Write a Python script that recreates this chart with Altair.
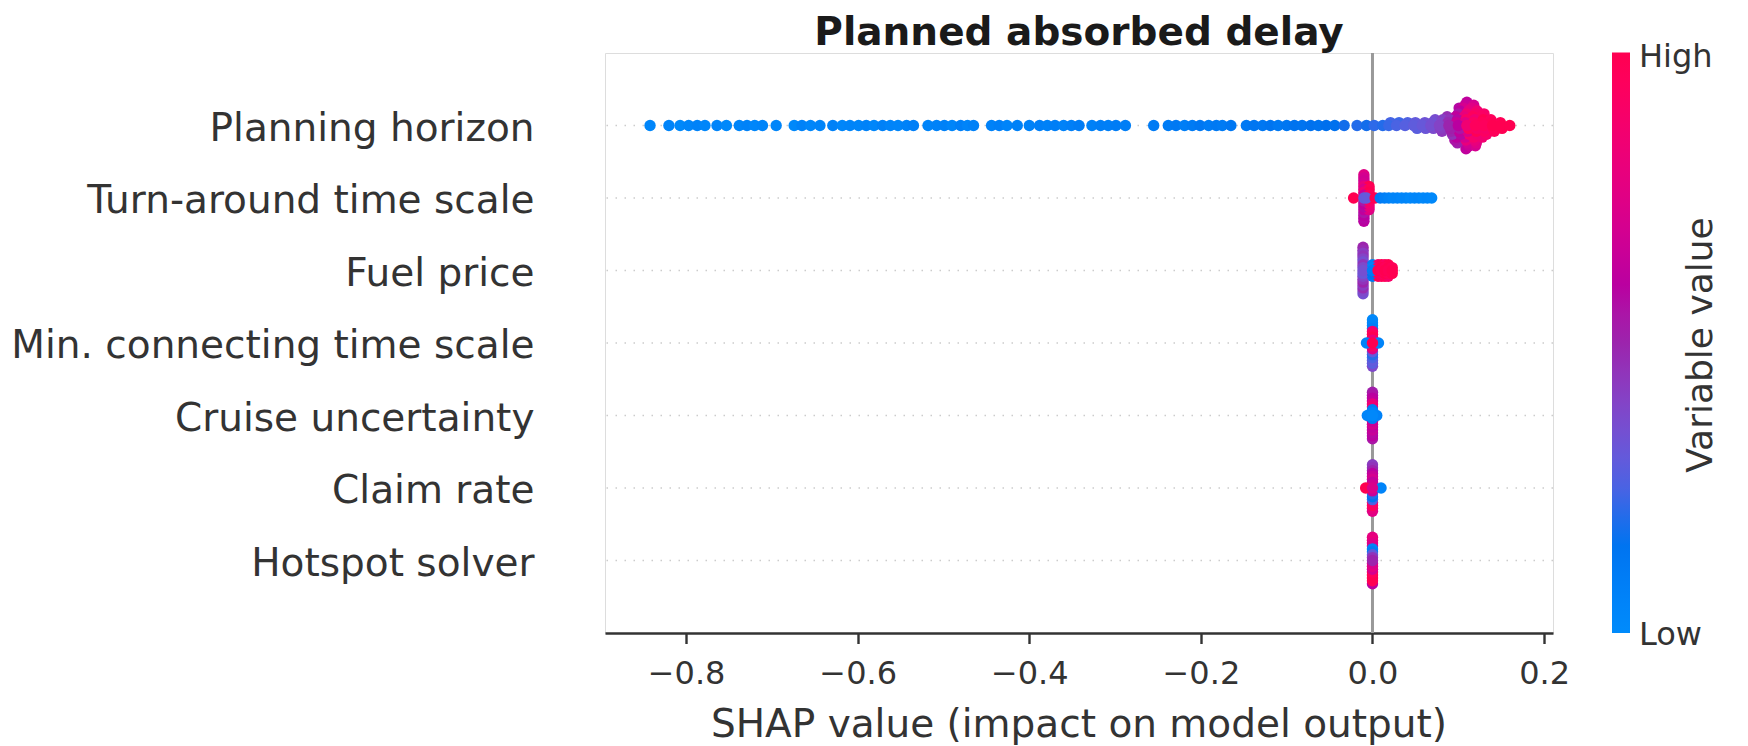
import json
import numpy as np
import pandas as pd
import altair as alt

# rows from bottom (0) to top (6)
features = ["Hotspot solver", "Claim rate", "Cruise uncertainty",
            "Min. connecting time scale", "Fuel price",
            "Turn-around time scale", "Planning horizon"]

planning_shap = [
    -0.842, -0.820, -0.807, -0.797, -0.787, -0.778, -0.764, -0.753, -0.738, -0.729,
    -0.720, -0.711, -0.695, -0.674, -0.665, -0.655, -0.644, -0.629, -0.618,
    -0.609, -0.599, -0.590, -0.581, -0.571, -0.562, -0.553, -0.543, -0.535, -0.518,
    -0.508, -0.499, -0.490, -0.480, -0.472, -0.465, -0.444, -0.435, -0.426, -0.414,
    -0.400, -0.388, -0.379, -0.370, -0.360, -0.351, -0.342, -0.327, -0.317,
    -0.308, -0.299, -0.288, -0.255, -0.238, -0.229, -0.219, -0.210, -0.201, -0.191,
    -0.182, -0.175, -0.165, -0.147, -0.138, -0.128, -0.119, -0.110, -0.100, -0.091,
    -0.082, -0.072, -0.063, -0.054, -0.044, -0.033, -0.018, -0.007, 0.002,
    0.012,
    0.019, 0.021,
    0.028, 0.031,
    0.038, 0.041,
    0.048, 0.050, 0.052,
    0.058, 0.061, 0.062,
    0.068, 0.070, 0.071, 0.073,
    0.078, 0.080, 0.079, 0.082, 0.081,
    0.089, 0.088, 0.091, 0.090, 0.092, 0.087, 0.093,
    0.100, 0.098, 0.102, 0.099, 0.101, 0.097, 0.103, 0.100, 0.098, 0.102, 0.096, 0.101, 0.099,
    0.110, 0.108, 0.112, 0.109, 0.111, 0.107, 0.113, 0.110, 0.108, 0.112, 0.109, 0.106, 0.111,
    0.108, 0.113, 0.110, 0.109,
    0.120, 0.118, 0.122, 0.119, 0.121, 0.117, 0.123, 0.120, 0.118, 0.122, 0.119, 0.116, 0.121,
    0.118, 0.120,
    0.130, 0.128, 0.132, 0.129, 0.131, 0.127, 0.133, 0.130, 0.128,
    0.140, 0.139, 0.141, 0.138, 0.142,
    0.150, 0.149, 0.151,
    0.160,
]
planning_value = [
    0.03, 0.05, 0.02, 0.04, 0.06, 0.03, 0.05, 0.02, 0.04, 0.06,
    0.03, 0.05, 0.04, 0.02, 0.06, 0.03, 0.05, 0.07, 0.03,
    0.05, 0.04, 0.06, 0.03, 0.07, 0.05, 0.04, 0.06, 0.08, 0.05,
    0.06, 0.07, 0.04, 0.08, 0.05, 0.07, 0.06, 0.08, 0.05, 0.07,
    0.06, 0.08, 0.07, 0.09, 0.06, 0.08, 0.10, 0.07, 0.09,
    0.08, 0.10, 0.09, 0.11, 0.10, 0.12, 0.09, 0.11, 0.13, 0.10,
    0.12, 0.11, 0.13, 0.12, 0.14, 0.13, 0.15, 0.12, 0.14, 0.16,
    0.15, 0.17, 0.16, 0.18, 0.17, 0.19, 0.20, 0.19, 0.21,
    0.20,
    0.22, 0.24,
    0.25, 0.23,
    0.27, 0.26,
    0.29, 0.30, 0.28,
    0.31, 0.33, 0.32,
    0.35, 0.34, 0.37, 0.36,
    0.40, 0.38, 0.42, 0.41, 0.44,
    0.50, 0.48, 0.52, 0.45, 0.50, 0.47, 0.46,
    0.60, 0.65, 0.55, 0.58, 0.62, 0.62, 0.58, 0.55, 0.60, 0.60, 0.55, 0.58, 0.52,
    0.85, 0.75, 0.95, 0.90, 0.72, 0.80, 0.88, 0.85, 0.70, 0.78, 0.80, 0.70, 0.68,
    0.65, 0.65, 0.62, 0.62,
    0.95, 0.92, 0.90, 0.85, 0.98, 0.95, 0.85, 0.90, 0.88, 0.85, 0.80, 0.75, 0.75,
    0.70, 0.70,
    0.95, 0.97, 0.90, 1.00, 0.93, 0.92, 0.88, 0.90, 0.85,
    1.00, 0.98, 0.97, 0.95, 0.96,
    1.00, 0.98, 0.99,
    1.00,
]

turn_shap = [
    -0.022,
    -0.010, -0.010, -0.010, -0.010, -0.010, -0.010, -0.010, -0.010, -0.010,
    -0.010, -0.010, -0.010, -0.010, -0.010, -0.010, -0.010, -0.010,
    -0.004, -0.004, -0.004, -0.004, -0.004, -0.004, -0.004, -0.004, -0.004,
    -0.007, 0.003,
    0.009, 0.014, 0.019, 0.024, 0.029, 0.034, 0.039, 0.044, 0.049, 0.054, 0.059, 0.064, 0.069,
]
turn_value = [
    1.00,
    0.30, 0.65, 0.55, 0.85, 0.60, 0.72, 0.58, 0.80, 0.62,
    0.70, 0.55, 0.68, 0.60, 0.70, 0.58, 0.75, 0.60,
    1.00, 0.95, 0.90, 1.00, 0.85, 0.97, 0.80, 1.00, 0.75,
    0.30, 1.00,
    0.12, 0.08, 0.06, 0.04, 0.05, 0.03, 0.04, 0.02, 0.03, 0.04, 0.02, 0.03, 0.02,
]

fuel_shap = [
    -0.011, -0.011, -0.011, -0.011, -0.011, -0.011, -0.011, -0.011, -0.011,
    -0.011, -0.011, -0.011, -0.011, -0.011, -0.011, -0.011, -0.011,
    0.000, 0.000, 0.000, 0.000, 0.000,
    0.0065, 0.0065, 0.0065, 0.0065, 0.0065,
    0.0105, 0.0105, 0.0105, 0.0105, 0.0105,
    0.0145, 0.0145, 0.0145, 0.0145, 0.0145,
    0.0185, 0.0185, 0.0185, 0.0185, 0.0185,
    0.023, 0.023, 0.023,
]
fuel_value = [
    0.35, 0.38, 0.32, 0.45, 0.40, 0.35, 0.45, 0.40, 0.50,
    0.45, 0.42, 0.42, 0.48, 0.48, 0.38, 0.50, 0.35,
    0.10, 0.05, 0.15, 0.08, 0.12,
    1.00, 0.95, 0.98, 0.90, 1.00,
    0.97, 1.00, 0.92, 1.00, 0.95,
    1.00, 0.96, 1.00, 0.93, 0.98,
    0.98, 1.00, 0.95, 1.00, 0.90,
    1.00, 0.97, 1.00,
]

mct_shap = [
    -0.007, 0.007,
    0.000, 0.000, 0.000, 0.000, 0.000, 0.000, 0.000, 0.000, 0.000,
    0.000, 0.000, 0.000, 0.000, 0.000, 0.000, 0.000, 0.000,
]
mct_value = [
    0.05, 0.05,
    1.00, 0.80, 0.90, 1.00, 0.75, 0.95, 0.30, 0.85, 0.20,
    0.08, 0.25, 0.05, 0.30, 0.03, 0.28, 0.02, 0.38,
]

cruise_shap = [
    -0.006, 0.005,
    0.000, 0.000, 0.000, 0.000, 0.000, 0.000, 0.000, 0.000, 0.000,
    0.000, 0.000, 0.000, 0.000, 0.000, 0.000, 0.000, 0.000,
]
cruise_value = [
    0.04, 0.06,
    0.02, 0.05, 0.10, 0.10, 0.65, 0.85, 0.70, 0.80, 0.62,
    0.62, 0.65, 0.60, 0.58, 0.55, 0.60, 0.52, 0.55,
]

claim_shap = [
    -0.008, 0.010,
    0.000, 0.000, 0.000, 0.000, 0.000, 0.000, 0.000, 0.000, 0.000,
    0.000, 0.000, 0.000, 0.000, 0.000, 0.000, 0.000, 0.000,
]
claim_value = [
    1.00, 0.05,
    0.72, 0.68, 0.65, 0.62, 0.20, 0.70, 0.15, 0.65, 0.25,
    0.60, 0.90, 0.50, 0.95, 0.45, 0.80, 0.42, 0.75,
]

hotspot_shap = [
    0.000, 0.000, 0.000, 0.000, 0.000, 0.000, 0.000, 0.000, 0.000,
    0.000, 0.000, 0.000, 0.000, 0.000, 0.000, 0.000, 0.000,
]
hotspot_value = [
    0.50, 0.45, 0.72, 0.30, 0.78, 0.10, 0.70, 0.05, 0.95,
    0.72, 1.00, 0.75, 1.00, 0.80, 0.98, 0.78, 0.60,
]

x_ticks = [-0.8, -0.6, -0.4, -0.2, 0.0, 0.2]

series = [
    (hotspot_shap, hotspot_value),
    (claim_shap, claim_value),
    (cruise_shap, cruise_value),
    (mct_shap, mct_value),
    (fuel_shap, fuel_value),
    (turn_shap, turn_value),
    (planning_shap, planning_value),
]

# ---- beeswarm layout (as in shap's summary plot) ----
records = []
for r, (xs, vs) in enumerate(series):
    n = min(len(xs), len(vs))
    xs = np.asarray(xs[:n], float)
    vs = np.asarray(vs[:n], float)
    lo, hi = xs.min(), xs.max()
    quant = np.round(100 * (xs - lo) / (hi - lo + 1e-8))
    inds = np.argsort(quant, kind="stable")
    layer, last = 0, None
    ys = np.zeros(n)
    for i in inds:
        if quant[i] != last:
            layer = 0
        ys[i] = np.ceil(layer / 2) * ((layer % 2) * 2 - 1)
        layer += 1
        last = quant[i]
    ys *= 0.9 * (0.4 / np.max(ys + 1))
    for i in range(n):
        records.append({"feature": features[r], "row": r, "shap": xs[i],
                        "value": vs[i], "y": r + ys[i], "depth": abs(ys[i]), "idx": i})
df = pd.DataFrame(records)
df = df.sort_values(["row", "depth", "idx"], ascending=[True, False, True]).reset_index(drop=True)
df["draw"] = np.arange(len(df))

# ---- shap red_blue colormap (LCH interpolation) ----
def lab_to_rgb(L, a, b):
    fy = (L + 16.0) / 116.0
    fx = a / 500.0 + fy
    fz = max(fy - b / 200.0, 0.0)
    f = np.array([fx, fy, fz])
    xyz = np.where(f > 0.2068966, f ** 3, (f - 16.0 / 116.0) / 7.787) * np.array([0.95047, 1.0, 1.08883])
    m = np.linalg.inv(np.array([[0.412453, 0.357580, 0.180423],
                                [0.212671, 0.715160, 0.072169],
                                [0.019334, 0.119193, 0.950227]]))
    rgb = m @ xyz
    rgb = np.where(rgb > 0.0031308, 1.055 * np.power(np.clip(rgb, 1e-12, None), 1 / 2.4) - 0.055, rgb * 12.92)
    return np.clip(rgb, 0, 1)

nsteps = 100
l_vals = list(np.linspace(54.0, 40.0, nsteps // 2)) + list(np.linspace(40.0, 54.0, nsteps // 2))
c_vals = np.linspace(70.0, 90.0, nsteps)
h_vals = np.linspace(4.6588, 0.35470565 + 2 * np.pi, nsteps)
stops, hexes = [], []
for pos, l, c, h in zip(np.linspace(0, 1, nsteps), l_vals, c_vals, h_vals):
    rgb = lab_to_rgb(l, c * np.cos(h), c * np.sin(h))
    stops.append(float(round(pos, 5)))
    hexes.append("#%02x%02x%02x" % tuple(int(round(v * 255)) for v in rgb))

FONT = "DejaVu Sans"
TXT = "#333333"
W, H = 948, 580

xscale = alt.Scale(domain=[-0.8945, 0.2104], nice=False, zero=False)
yscale = alt.Scale(domain=[-1, 7], nice=False, zero=False)
xaxis = alt.Axis(values=x_ticks, format=".1f", title=None, grid=False,
                 domainColor=TXT, domainWidth=2.4, tickColor=TXT, tickWidth=2.4,
                 tickSize=10.5, labelFontSize=32, labelColor=TXT, labelFont=FONT,
                 labelBaseline="alphabetic", labelPadding=40, labelFlush=False)
label_expr = json.dumps(features) + "[datum.value]"
yaxis = alt.Axis(values=list(range(7)), labelExpr=label_expr, title=None, grid=False,
                 domain=False, ticks=False, labelFontSize=39, labelColor=TXT,
                 labelFont=FONT, labelPadding=71, labelLimit=2000,
                 labelBaseline="alphabetic", labelOffset=14.5)

hlines = alt.Chart(pd.DataFrame({"row": list(range(7))})).mark_rule(
    color="#cccccc", strokeWidth=1.5, strokeDash=[1.5, 7.5]
).encode(y=alt.Y("row:Q", scale=yscale, axis=yaxis))

zero = alt.Chart(pd.DataFrame({"zero": [0.0]})).mark_rule(
    color="#999999", strokeWidth=3
).encode(x=alt.X("zero:Q", scale=xscale, axis=xaxis))

legend = alt.Legend(title=None, orient="none", legendX=1007, legendY=-0.5,
                    direction="vertical", gradientLength=580.5, gradientThickness=18,
                    gradientStrokeWidth=0, padding=0, values=[0, 1],
                    labelExpr="''", labelFontSize=2, labelOverlap=False)

points = alt.Chart(df).mark_circle(size=130, opacity=1, strokeWidth=0).encode(
    x=alt.X("shap:Q", scale=xscale, axis=xaxis),
    y=alt.Y("y:Q", scale=yscale, axis=yaxis),
    color=alt.Color("value:Q", scale=alt.Scale(domain=stops, range=hexes, interpolate="rgb"),
                    legend=legend),
    order=alt.Order("draw:Q"),
)

title = alt.Chart(pd.DataFrame({"t": ["Planned absorbed delay"]})).mark_text(
    font=FONT, fontSize=39, fontWeight="bold", color="#1a1a1a",
    align="center", baseline="alphabetic"
).encode(text="t:N", x=alt.value(W / 2), y=alt.value(-8))

xtitle = alt.Chart(pd.DataFrame({"t": ["SHAP value (impact on model output)"]})).mark_text(
    font=FONT, fontSize=39, color=TXT, align="center", baseline="alphabetic"
).encode(text="t:N", x=alt.value(W / 2), y=alt.value(684))

ctitle = alt.Chart(pd.DataFrame({"t": ["Variable value"]})).mark_text(
    font=FONT, fontSize=36, color=TXT, align="center", baseline="middle", angle=270
).encode(text="t:N", x=alt.value(1096), y=alt.value(292))

high = alt.Chart(pd.DataFrame({"t": ["High"]})).mark_text(
    font=FONT, fontSize=32, color=TXT, align="left", baseline="middle"
).encode(text="t:N", x=alt.value(1034), y=alt.value(4))

low = alt.Chart(pd.DataFrame({"t": ["Low"]})).mark_text(
    font=FONT, fontSize=32, color=TXT, align="left", baseline="middle"
).encode(text="t:N", x=alt.value(1034), y=alt.value(582))

chart = alt.layer(hlines, zero, points, title, xtitle, ctitle, high, low).properties(
    width=W, height=H,
    padding={"left": 597, "top": 45, "right": 180, "bottom": 122},
    autosize=alt.AutoSizeParams(type="none"),
).configure_view(strokeWidth=0).configure(font=FONT)

chart.save("out.html", embed_options={"renderer": "svg", "actions": False})
